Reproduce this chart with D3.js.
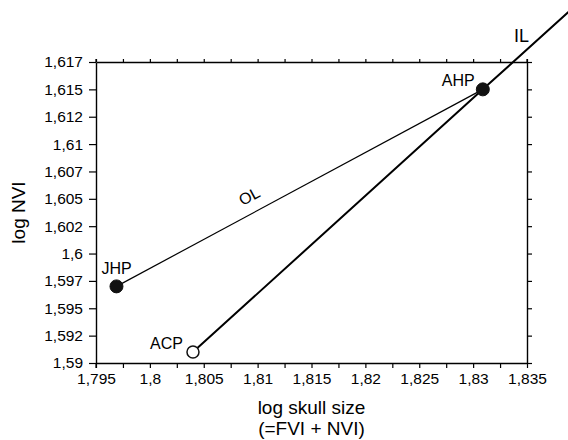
<!DOCTYPE html>
<html>
<head>
<meta charset="utf-8">
<script src="https://cdn.jsdelivr.net/npm/d3@7"></script>
<style>
  html, body { margin: 0; padding: 0; background: #fff; }
  svg text { font-family: "Liberation Sans", Arial, sans-serif; fill: #000; }
</style>
</head>
<body>
<svg id="chart" width="568" height="440"></svg>
<script>
// ---- data ----
const xTicks = [1.795, 1.8, 1.805, 1.81, 1.815, 1.82, 1.825, 1.83, 1.835];
const xTickLabels = ["1,795", "1,8", "1,805", "1,81", "1,815", "1,82", "1,825", "1,83", "1,835"];
const xMinorTicks = [1.7975, 1.8025, 1.8075, 1.8125, 1.8175, 1.8225, 1.8275, 1.8325];
const yTicks = [1.59, 1.5925, 1.595, 1.5975, 1.6, 1.6025, 1.605, 1.6075, 1.61, 1.6125, 1.615, 1.6175];
const yTickLabels = ["1,59", "1,592", "1,595", "1,597", "1,6", "1,602", "1,605", "1,607", "1,61", "1,612", "1,615", "1,617"];
const pointNames = ["JHP", "ACP", "AHP"];
const pointX = [1.7969, 1.8040, 1.8309];
const pointY = [1.5970, 1.5910, 1.6150];
const pointFilled = [true, false, true];
const olLine = [[1.7969, 1.5970], [1.8309, 1.6150]];
const ilLine = [[1.8040, 1.5910], [1.8309, 1.6150], [1.8400, 1.6231]];

(function () {
// ---- layout ----
const svg = d3.select("#chart");
const mL = 96, mR = 527, mT = 62, mB = 363;
const x = d3.scaleLinear().domain([1.795, 1.835]).range([mL, mR]);
const y = d3.scaleLinear().domain([1.59, 1.6175]).range([mB, mT]);
const fmtX = d => xTickLabels[xTicks.findIndex(t => Math.abs(t - d) < 1e-9)] || "";
const fmtY = d => yTickLabels[yTicks.findIndex(t => Math.abs(t - d) < 1e-9)] || "";

// bottom axis (major labelled)
svg.append("g").attr("transform", `translate(0,${mB})`)
  .call(d3.axisBottom(x).tickValues(xTicks).tickFormat(fmtX).tickSizeInner(5).tickSizeOuter(0).tickPadding(5));
// bottom minor ticks
svg.append("g").attr("transform", `translate(0,${mB})`)
  .call(d3.axisBottom(x).tickValues(xMinorTicks).tickFormat("").tickSizeInner(5).tickSizeOuter(0))
  .call(g => g.select(".domain").remove());
// top axis
svg.append("g").attr("transform", `translate(0,${mT})`)
  .call(d3.axisTop(x).tickValues(xTicks.concat(xMinorTicks)).tickFormat("").tickSizeInner(3).tickSizeOuter(0));
// left axis
svg.append("g").attr("transform", `translate(${mL},0)`)
  .call(d3.axisLeft(y).tickValues(yTicks).tickFormat(fmtY).tickSizeInner(7).tickSizeOuter(0).tickPadding(6));
// right axis
svg.append("g").attr("transform", `translate(${mR},0)`)
  .call(d3.axisRight(y).tickValues(yTicks).tickFormat("").tickSizeInner(5).tickSizeOuter(0));

svg.selectAll(".domain").attr("stroke", "#000").attr("stroke-width", 1.4);
svg.selectAll(".tick line").attr("stroke", "#000").attr("stroke-width", 1.2);
svg.selectAll(".tick text").style("font-size", "15.5px").attr("fill", "#000");

// corner extensions (cross-style corners)
svg.append("line").attr("x1", mL).attr("x2", mL).attr("y1", mB).attr("y2", mB + 5).attr("stroke", "#000").attr("stroke-width", 1.2);
svg.append("line").attr("x1", mL).attr("x2", mL).attr("y1", mT).attr("y2", mT - 3).attr("stroke", "#000").attr("stroke-width", 1.2);
svg.append("line").attr("x1", mR).attr("x2", mR).attr("y1", mT).attr("y2", mT - 3).attr("stroke", "#000").attr("stroke-width", 1.2);

// axis titles
svg.append("text").attr("x", (mL + mR) / 2).attr("y", 414).attr("text-anchor", "middle")
  .style("font-size", "19px").text("log skull size");
svg.append("text").attr("x", (mL + mR) / 2).attr("y", 435).attr("text-anchor", "middle")
  .style("font-size", "19px").text("(=FVI + NVI)");
svg.append("text").attr("transform", `translate(25,${(mT + mB) / 2}) rotate(-90)`).attr("text-anchor", "middle")
  .style("font-size", "19px").text("log NVI");

// lines
const line = d3.line().x(d => x(d[0])).y(d => y(d[1]));
svg.append("path").attr("d", line(olLine)).attr("fill", "none").attr("stroke", "#000").attr("stroke-width", 1.2);
svg.append("path").attr("d", line(ilLine)).attr("fill", "none").attr("stroke", "#000").attr("stroke-width", 2);

// points
pointNames.forEach((n, i) => {
  svg.append("circle").attr("cx", x(pointX[i])).attr("cy", y(pointY[i]))
    .attr("r", pointFilled[i] ? 6.5 : 6)
    .attr("fill", pointFilled[i] ? "#111" : "#fff")
    .attr("stroke", "#111").attr("stroke-width", pointFilled[i] ? 1 : 1.5);
});

// point labels
const labelDx = [-15, -43, -41];
const labelDy = [-12, -3, -3];
pointNames.forEach((n, i) => {
  svg.append("text").attr("x", x(pointX[i]) + labelDx[i]).attr("y", y(pointY[i]) + labelDy[i])
    .style("font-size", "16px").text(n);
});

// line labels
svg.append("text").attr("transform", `translate(252,201) rotate(-28)`).attr("text-anchor", "middle")
  .style("font-size", "16px").text("OL");
svg.append("text").attr("x", 514).attr("y", 42).style("font-size", "18px").text("IL");
})();
</script>
</body>
</html>
